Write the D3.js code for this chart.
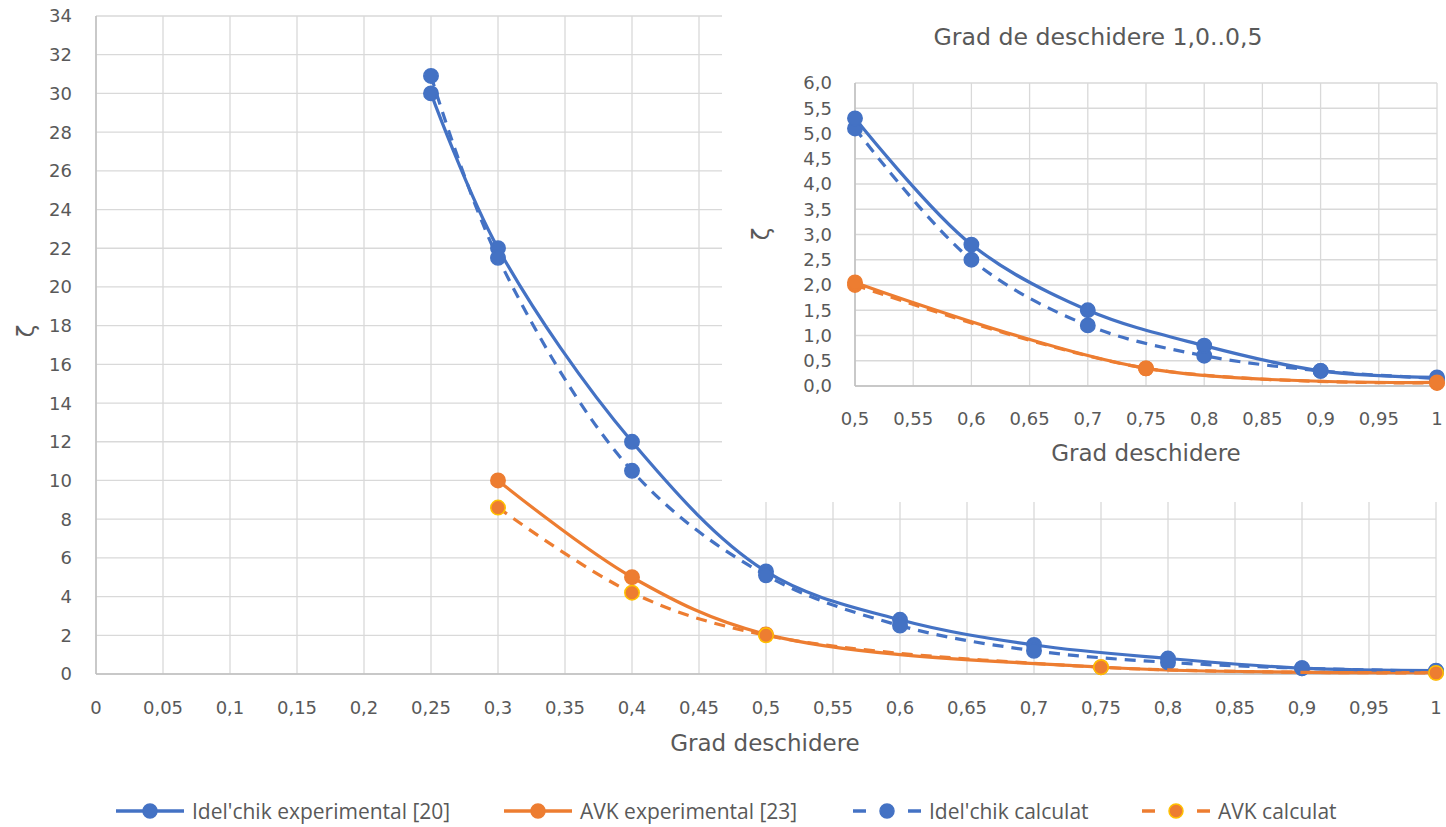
<!DOCTYPE html>
<html>
<head>
<meta charset="utf-8">
<script src="https://cdn.jsdelivr.net/npm/d3@7"></script>
<style>
  html, body { margin: 0; padding: 0; background: #fff; }
  svg { display: block; }
  .tick-label { font-family: "DejaVu Sans", Verdana, sans-serif; font-size: 18px; fill: #595959; }
  .axis-title { font-family: "DejaVu Sans", Verdana, sans-serif; font-size: 23px; fill: #595959; }
  .inset-title { font-family: "DejaVu Sans", Verdana, sans-serif; font-size: 23.6px; fill: #595959; }
  .legend-text { font-family: "Open Sans", "Noto Sans", sans-serif; font-size: 21px; fill: #595959; }
</style>
</head>
<body>
<svg id="chart" width="1446" height="827"></svg>
<script>
// Opening degree (grad deschidere) and loss coefficient ζ
const openingIdel = [0.25, 0.3, 0.4, 0.5, 0.6, 0.7, 0.8, 0.9, 1.0];
const idelExperimental = [30.0, 22.0, 12.0, 5.3, 2.8, 1.5, 0.8, 0.3, 0.17];
const idelCalculated   = [30.9, 21.5, 10.5, 5.1, 2.5, 1.2, 0.6, 0.3, 0.15];

const openingAvk = [0.3, 0.4, 0.5, 0.75, 1.0];
const avkExperimental = [10.0, 5.0, 2.05, 0.35, 0.07];
const avkCalculated   = [8.6, 4.2, 2.0, 0.35, 0.06];

// Tick values
const mainXTicks = d3.range(0, 21).map(i => i * 0.05);
const mainYTicks = d3.range(0, 18).map(i => i * 2);
const insetXTicks = d3.range(10, 21).map(i => i * 0.05);
const insetYTicks = d3.range(0, 13).map(i => i * 0.5);

const seriesNames = ["Idel'chik experimental [20]", "AVK experimental [23]", "Idel'chik calculat", "AVK calculat"];

const BLUE = "#4472C4", ORANGE = "#ED7D31", GOLD = "#FFC000";
const GRID = "#D9D9D9", AXIS = "#BFBFBF";

const svg = d3.select("#chart");

const comma = v => String(Math.round(v * 100) / 100).replace(".", ",");
const comma1 = v => v.toFixed(1).replace(".", ",");

function pairs(xs, ys, minX) {
  return xs.map((x, i) => ({ x, y: ys[i] })).filter(d => d.x >= minX);
}

function drawPanel(g, opt) {
  const { x, y, xTicks, yTicks, xFmt, yFmt, minX, r } = opt;
  const [x0, x1] = x.range();
  const [y0, y1] = y.range();

  // gridlines
  g.append("g").selectAll("line").data(yTicks).join("line")
    .attr("x1", x0).attr("x2", x1)
    .attr("y1", d => y(d)).attr("y2", d => y(d))
    .attr("stroke", GRID).attr("stroke-width", 1.3);
  g.append("g").selectAll("line").data(xTicks).join("line")
    .attr("x1", d => x(d)).attr("x2", d => x(d))
    .attr("y1", y0).attr("y2", y1)
    .attr("stroke", GRID).attr("stroke-width", 1.3);

  // axis lines
  g.append("line").attr("x1", x0).attr("x2", x0).attr("y1", y0).attr("y2", y1)
    .attr("stroke", AXIS).attr("stroke-width", 1.5);
  g.append("line").attr("x1", x0).attr("x2", x1).attr("y1", y0).attr("y2", y0)
    .attr("stroke", AXIS).attr("stroke-width", 1.5);

  // tick labels
  g.append("g").selectAll("text").data(yTicks).join("text")
    .attr("class", "tick-label")
    .attr("x", opt.yLabelX).attr("y", d => y(d))
    .attr("dy", "0.36em").attr("text-anchor", "end")
    .text(yFmt);
  g.append("g").selectAll("text").data(xTicks).join("text")
    .attr("class", "tick-label")
    .attr("x", d => x(d)).attr("y", opt.xLabelY)
    .attr("text-anchor", "middle")
    .text(xFmt);

  const line = d3.line().x(d => x(d.x)).y(d => y(d.y)).curve(d3.curveCatmullRom.alpha(0.5));

  const series = [
    { data: pairs(openingIdel, idelExperimental, minX), color: BLUE, dash: null, fill: BLUE, ring: BLUE },
    { data: pairs(openingAvk, avkExperimental, minX), color: ORANGE, dash: null, fill: ORANGE, ring: ORANGE },
    { data: pairs(openingIdel, idelCalculated, minX), color: BLUE, dash: "11,8", fill: BLUE, ring: BLUE },
    { data: pairs(openingAvk, avkCalculated, minX), color: ORANGE, dash: "11,8", fill: ORANGE, ring: opt.calcRing }
  ];
  opt.order.forEach(i => {
    const s = series[i];
    g.append("path").datum(s.data)
      .attr("d", line).attr("fill", "none")
      .attr("stroke", s.color).attr("stroke-width", 3.2)
      .attr("stroke-dasharray", s.dash);
    g.append("g").selectAll("circle").data(s.data).join("circle")
      .attr("cx", d => x(d.x)).attr("cy", d => y(d.y)).attr("r", r)
      .attr("fill", s.fill).attr("stroke", s.ring).attr("stroke-width", 1.5);
  });
}

// ---- main chart ----
const xMain = d3.scaleLinear().domain([0, 1]).range([96, 1436]);
const yMain = d3.scaleLinear().domain([0, 34]).range([674, 16]);
const gMain = svg.append("g");
drawPanel(gMain, {
  x: xMain, y: yMain, xTicks: mainXTicks, yTicks: mainYTicks,
  xFmt: comma, yFmt: d => d, minX: 0, r: 7.2,
  yLabelX: 72, xLabelY: 714, order: [0, 1, 2, 3], calcRing: GOLD
});
gMain.append("text").attr("class", "axis-title")
  .attr("x", (96 + 1436) / 2 - 1).attr("y", 751).attr("text-anchor", "middle")
  .text("Grad deschidere");
gMain.append("text").attr("class", "axis-title")
  .attr("transform", "translate(34,331) rotate(-90)")
  .attr("text-anchor", "middle").text("ζ");

// ---- inset chart (range 0,5 … 1) ----
svg.append("rect").attr("x", 722).attr("y", 0).attr("width", 724).attr("height", 502).attr("fill", "#fff");
const xIn = d3.scaleLinear().domain([0.5, 1]).range([855, 1437]);
const yIn = d3.scaleLinear().domain([0, 6]).range([386, 83]);
const gIn = svg.append("g");
drawPanel(gIn, {
  x: xIn, y: yIn, xTicks: insetXTicks, yTicks: insetYTicks,
  xFmt: comma, yFmt: comma1, minX: 0.5, r: 7.2,
  yLabelX: 832, xLabelY: 425, order: [3, 2, 0, 1], calcRing: ORANGE
});
gIn.append("text").attr("class", "inset-title")
  .attr("x", 1098).attr("y", 45).attr("text-anchor", "middle")
  .text("Grad de deschidere 1,0..0,5");
gIn.append("text").attr("class", "axis-title")
  .attr("x", (855 + 1437) / 2).attr("y", 461).attr("text-anchor", "middle")
  .text("Grad deschidere");
gIn.append("text").attr("class", "axis-title")
  .attr("transform", "translate(769,234) rotate(-90)")
  .attr("text-anchor", "middle").text("ζ");

// ---- legend ----
const legendItems = [
  { name: seriesNames[0], color: BLUE, dashed: false, ring: BLUE, x0: 116 },
  { name: seriesNames[1], color: ORANGE, dashed: false, ring: ORANGE, x0: 504 },
  { name: seriesNames[2], color: BLUE, dashed: true, ring: BLUE, x0: 853 },
  { name: seriesNames[3], color: ORANGE, dashed: true, ring: GOLD, x0: 1142 }
];
const legendY = 811;
const gLeg = svg.append("g");
legendItems.forEach(it => {
  const g = gLeg.append("g").attr("transform", `translate(${it.x0},${legendY})`);
  if (it.dashed) {
    g.append("line").attr("x1", 0).attr("x2", 13).attr("y1", 0).attr("y2", 0)
      .attr("stroke", it.color).attr("stroke-width", 3.5);
    g.append("line").attr("x1", 55).attr("x2", 68).attr("y1", 0).attr("y2", 0)
      .attr("stroke", it.color).attr("stroke-width", 3.5);
  } else {
    g.append("line").attr("x1", 0).attr("x2", 68).attr("y1", 0).attr("y2", 0)
      .attr("stroke", it.color).attr("stroke-width", 3.5);
  }
  g.append("circle").attr("cx", 34).attr("cy", 0).attr("r", 7)
    .attr("fill", it.color).attr("stroke", it.ring).attr("stroke-width", 1.5);
  g.append("text").attr("class", "legend-text")
    .attr("x", 76).attr("y", 8).text(it.name);
});
</script>
</body>
</html>
